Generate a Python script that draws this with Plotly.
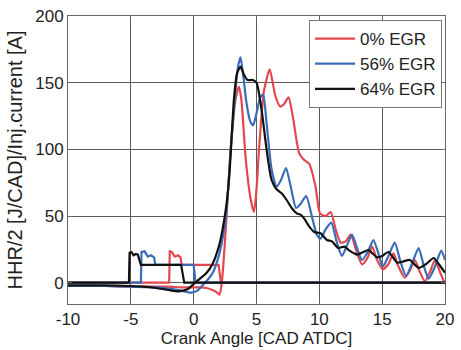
import plotly.graph_objects as go

# ---- data ----
# Heat release rate / 2 [J/CAD]
red_hhr_x = [-10, -7, -5, -3, -2, -1, 0, 0.6, 1.0, 1.5, 1.8, 2.05, 2.2, 2.35, 2.6, 2.96, 3.36, 3.6, 3.8, 4.15, 4.55, 4.8, 5.0, 5.2, 5.6, 6.05, 6.5, 6.9, 7.2, 7.55, 7.9, 8.4, 8.8, 9.2, 9.7, 10.05, 10.5, 10.9, 11.3, 11.7, 12.1, 12.5, 13.0, 13.4, 13.8, 14.2, 14.6, 15.05, 15.5, 15.9, 16.3, 16.8, 17.2, 17.6, 18.0, 18.4, 18.8, 19.2, 19.6, 20]
red_hhr_y = [-2.5, -2.5, -3, -3, -3, -3.5, -3.5, -3.5, -4, -5.5, -7, -9, -3, 12, 47, 102, 139, 147, 137, 92, 62, 53, 70, 100, 144, 160, 140, 132, 134, 139, 124, 97, 92, 89, 72, 52, 50, 53, 40, 30, 31, 36, 22, 13.7, 18, 27, 17, 10, 14, 22, 12, 3.7, 9, 17, 8, 1, 8, 17, 8, -1]

blue_hhr_x = [-10, -7, -5, -3, -2, -1, -0.2, 0.3, 0.7, 1.1, 1.5, 2.0, 2.3, 2.6, 2.95, 3.35, 3.55, 3.73, 3.95, 4.2, 4.5, 4.73, 5.0, 5.3, 5.53, 5.8, 6.2, 6.6, 6.9, 7.35, 7.7, 8.15, 8.5, 8.95, 9.4, 9.8, 10.1, 10.5, 10.95, 11.4, 11.8, 12.2, 12.6, 13.0, 13.4, 13.9, 14.3, 14.7, 15.05, 15.5, 16.0, 16.45, 16.9, 17.4, 17.9, 18.3, 18.7, 19.2, 19.7, 20]
blue_hhr_y = [-2.5, -2.5, -3, -3.5, -4.5, -6, -7.5, -6, -2, 2, 7, 20, 33, 52, 100, 147, 163, 169, 155, 135, 121, 118, 127, 139, 141, 120, 85, 72, 76, 86, 73, 56, 59, 65, 50, 36, 33, 40, 45, 30, 20, 28, 36, 26, 17, 24, 32, 22, 12, 20, 30, 16, 5, 15, 26, 13, 3, 12, 24, 17]

black_hhr_x = [-10, -7, -5, -4, -3, -2, -1.2, -0.5, 0, 0.5, 1.0, 1.5, 2.0, 2.3, 2.6, 2.85, 3.2, 3.45, 3.73, 4.0, 4.3, 4.7, 5.0, 5.4, 5.8, 6.2, 6.6, 7.0, 7.4, 7.8, 8.2, 8.5, 8.8, 9.2, 9.6, 10.1, 10.6, 11.0, 11.5, 12.0, 12.4, 13.0, 13.5, 13.9, 14.6, 15.0, 15.5, 16.2, 16.7, 17.2, 17.9, 18.5, 19.1, 19.5, 20]
black_hhr_y = [-2, -2, -2.5, -3, -4, -5.5, -6.5, -5, -1, 3, 7, 14, 27, 40, 58, 82, 137, 157, 162, 156, 152, 152, 150, 130, 100, 77, 70, 67, 62, 56, 52, 51, 48, 42, 38, 37, 32, 31, 26, 27, 24, 21, 23, 24.5, 19, 20, 23, 15, 16, 17, 11, 14, 18.5, 14, 7.5]

# Injection current [A]
red_cur_x = [-10, -1.95, -1.9, -1.75, -1.5, -1.25, -1.05, -0.95, 1.98, 2.17, 20]
red_cur_y = [0, 0, 23.5, 23, 19.5, 20.5, 19, 13.3, 13.3, 0, 0]

blue_cur_x = [-10, -4.2, -4.15, -3.9, -3.65, -3.4, -3.15, -3.05, 0.0, 0.15, 20]
blue_cur_y = [0, 0, 23, 23.5, 19.5, 20.5, 19, 13.3, 13.3, 0, 0]

black_cur_x = [-10, -5.15, -5.1, -4.95, -4.79, -4.6, -4.44, -4.2, -1.0, -0.75, 20]
black_cur_y = [0, 0, 22.5, 23, 20.5, 21.5, 21, 13.3, 13.3, 0, 0]

series_names = ["0% EGR", "56% EGR", "64% EGR"]
x_ticks = [-10, -5, 0, 5, 10, 15, 20]
x_tick_text = ["-10", "-5", "0", "5", "10", "15", "20"]
y_ticks = [0, 50, 100, 150, 200]

RED = "#e5474f"
BLUE = "#3b6cb8"
BLACK = "#111111"

fig = go.Figure()

hhr = [(red_hhr_x, red_hhr_y, RED), (blue_hhr_x, blue_hhr_y, BLUE), (black_hhr_x, black_hhr_y, BLACK)]
cur = [(red_cur_x, red_cur_y, RED), (blue_cur_x, blue_cur_y, BLUE), (black_cur_x, black_cur_y, BLACK)]

for (hx, hy, c), (cx, cy, _), name in zip(hhr, cur, series_names):
    fig.add_trace(go.Scatter(x=cx, y=cy, mode="lines", line=dict(color=c, width=2.2),
                             showlegend=False, hoverinfo="skip"))
    fig.add_trace(go.Scatter(x=hx, y=hy, mode="lines", name=name,
                             line=dict(color=c, width=2.2, shape="spline", smoothing=0.6)))

FONT = "Liberation Sans, Arial, sans-serif"
axis_common = dict(showgrid=True, gridcolor="#5a5a5a", gridwidth=1,
                   showline=True, linecolor="#666666", linewidth=1, mirror="ticks",
                   ticks="inside", ticklen=4, tickcolor="#666666", zeroline=False,
                   automargin=False,
                   tickfont=dict(family=FONT, size=17, color="#222222"))

fig.update_layout(
    width=461, height=350,
    margin=dict(l=68, r=16, t=16, b=46),
    paper_bgcolor="white", plot_bgcolor="white",
    font=dict(family=FONT, color="#222222"),
    xaxis=dict(range=[-10, 20], tickvals=x_ticks, ticktext=x_tick_text,
               title=dict(text="Crank Angle [CAD ATDC]", font=dict(size=17), standoff=1),
               **axis_common),
    yaxis=dict(range=[-16, 200], tickvals=y_ticks,
               title=dict(text="HHR/2 [J/CAD]/Inj.current [A]", font=dict(size=20), standoff=7),
               **axis_common),
    legend=dict(x=0.992, y=0.986, xanchor="right", yanchor="top",
                bgcolor="white", bordercolor="#777777", borderwidth=1,
                font=dict(family=FONT, size=17, color="#222222"),
                itemwidth=40, tracegroupgap=0),
)

fig.write_html("out.html", config={"displayModeBar": False},
               post_script="document.body.style.margin='0px';")
